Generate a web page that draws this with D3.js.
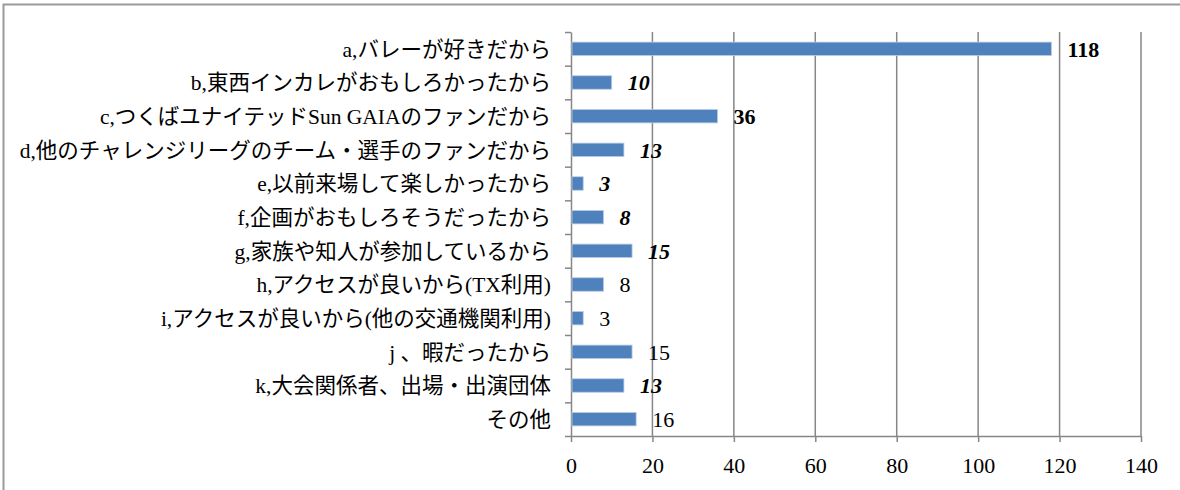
<!DOCTYPE html>
<html>
<head>
<meta charset="utf-8">
<script src="https://cdn.jsdelivr.net/npm/d3@7"></script>
<style>
    body { margin: 0; background: #fff; }
    svg { display: block; }
    .axis path, .axis line { stroke: #868686; stroke-width: 1.5; }
    .axis text { font-family: "Liberation Serif", "DejaVu Serif", serif; font-size: 22px; fill: #000; }
</style>
</head>
<body>
<script>
const categories = [
    "a,バレーが好きだから",
    "b,東西インカレがおもしろかったから",
    "c,つくばユナイテッドSun GAIAのファンだから",
    "d,他のチャレンジリーグのチーム・選手のファンだから",
    "e,以前来場して楽しかったから",
    "f,企画がおもしろそうだったから",
    "g,家族や知人が参加しているから",
    "h,アクセスが良いから(TX利用)",
    "i,アクセスが良いから(他の交通機関利用)",
    "j 、暇だったから",
    "k,大会関係者、出場・出演団体",
    "その他"
];
const counts = [118, 10, 36, 13, 3, 8, 15, 8, 3, 15, 13, 16];
const xTicks = [0, 20, 40, 60, 80, 100, 120, 140];

const w = 1180, h = 490;
const plotLeft = 571, plotRight = 1141, plotTop = 32, plotBottom = 436;

// value label looks as in the original sheet
const labelLook = {
    "a": "bold", "b": "bolditalic", "c": "bold", "d": "bolditalic",
    "e": "bolditalic", "f": "bolditalic", "g": "bolditalic", "k": "bolditalic"
};

const data = categories.map((c, i) => ({ cat: c, value: counts[i] }));

let xScale = d3.scaleLinear()
    .domain([0, 140])
    .range([plotLeft, plotRight]);
let yScale = d3.scaleBand()
    .domain(categories)
    .range([plotTop, plotBottom])
    .paddingInner(0.6)
    .paddingOuter(0.3);
// boundaries between the categories, for the y tick marks
let yEdge = d3.scaleLinear()
    .domain([0, categories.length])
    .range([plotTop, plotBottom]);

var svg = d3.select("body")
    .append("svg")
    .attr("width", w)
    .attr("height", h);

//frame
svg.append("rect")
    .attr("x", 3.5).attr("y", 4.5)
    .attr("width", w + 10).attr("height", h + 10)
    .attr("fill", "none")
    .attr("stroke", "#9a9a9a")
    .attr("stroke-width", 2);

//gridlines
svg.selectAll("line.grid")
    .data(xTicks.slice(1))
    .enter()
    .append("line")
    .attr("class", "grid")
    .attr("x1", d => xScale(d)).attr("x2", d => xScale(d))
    .attr("y1", plotTop).attr("y2", plotBottom)
    .attr("stroke", "#868686")
    .attr("stroke-width", 1.5);

//x axis
let xAxis = svg.append("g")
    .attr("class", "axis")
    .attr("transform", "translate(0," + plotBottom + ")")
    .call(d3.axisBottom(xScale).tickValues(xTicks).tickSize(6).tickSizeOuter(0));
xAxis.selectAll("text").attr("y", 29).attr("dy", "0.35em");

//y axis
svg.append("g")
    .attr("class", "axis")
    .attr("transform", "translate(" + plotLeft + ",0)")
    .call(d3.axisLeft(yEdge).tickValues(d3.range(categories.length + 1)).tickSize(6).tickSizeOuter(0).tickFormat(""));

//bars
svg.selectAll("rect.bar")
    .data(data)
    .enter()
    .append("rect")
    .attr("class", "bar")
    .attr("x", xScale(0) + 1)
    .attr("y", d => yScale(d.cat))
    .attr("width", d => xScale(d.value) - xScale(0) - 1)
    .attr("height", yScale.bandwidth())
    .attr("fill", "#4f81bd")
    .attr("stroke", "#b9cde5")
    .attr("stroke-width", 0.8);

//category labels
svg.selectAll("text.cat")
    .data(data)
    .enter()
    .append("text")
    .attr("class", "cat")
    .text(d => d.cat)
    .attr("x", 551)
    .attr("y", d => yScale(d.cat) + yScale.bandwidth() / 2)
    .attr("dy", "0.36em")
    .attr("text-anchor", "end")
    .attr("font-family", "'Liberation Serif', 'Noto Sans CJK JP', serif")
    .attr("font-size", 21.5)
    .attr("fill", "#000");

//value labels
svg.selectAll("text.val")
    .data(data)
    .enter()
    .append("text")
    .attr("class", "val")
    .text(d => d.value)
    .attr("x", d => xScale(d.value) + 16)
    .attr("y", d => yScale(d.cat) + yScale.bandwidth() / 2)
    .attr("dy", "0.36em")
    .attr("font-family", "'Liberation Serif', serif")
    .attr("font-size", 22)
    .attr("font-weight", d => (labelLook[d.cat[0]] ? "bold" : "normal"))
    .attr("font-style", d => (labelLook[d.cat[0]] === "bolditalic" ? "italic" : "normal"))
    .attr("fill", "#000");
</script>
</body>
</html>
